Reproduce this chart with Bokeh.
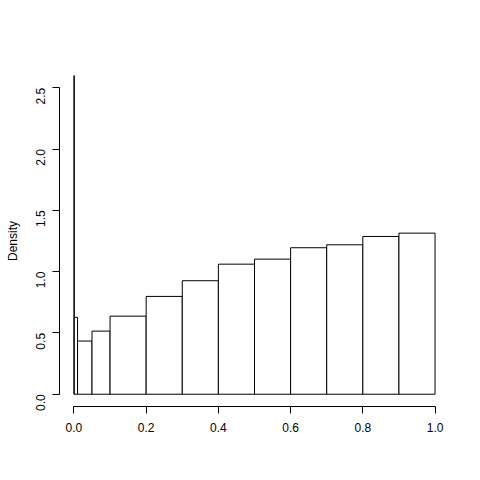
import math
from bokeh.plotting import figure
from bokeh.models import Range1d, FixedTicker, LinearAxis, CustomJSTickFormatter
from bokeh.embed import file_html
from bokeh.resources import INLINE

# histogram breaks (unequal widths) and densities
breaks_left = [0.0, 0.001, 0.01, 0.05, 0.1, 0.2, 0.3, 0.4, 0.5, 0.6, 0.7, 0.8, 0.9]
breaks_right = [0.001, 0.01, 0.05, 0.1, 0.2, 0.3, 0.4, 0.5, 0.6, 0.7, 0.8, 0.9, 1.0]
density = [20.0, 0.627, 0.434, 0.515, 0.637, 0.798, 0.926, 1.061, 1.102, 1.195, 1.219, 1.287, 1.314]
x_ticks = [0.0, 0.2, 0.4, 0.6, 0.8, 1.0]
y_ticks = [0.0, 0.5, 1.0, 1.5, 2.0, 2.5]
bottoms = [0.0] * len(density)

FONT = "Liberation Sans"

p = figure(width=464, height=464, output_backend="svg", toolbar_location=None,
           x_range=Range1d(-0.04, 1.04), y_range=Range1d(-0.1, 2.6),
           x_axis_location=None, y_axis_location=None,
           min_border_left=59, min_border_right=15, min_border_top=75, min_border_bottom=58)
p.outline_line_color = None
p.xgrid.visible = False
p.ygrid.visible = False
p.background_fill_color = "white"
p.border_fill_color = "white"

p.quad(left=breaks_left, right=breaks_right, bottom=bottoms, top=density,
       fill_color="white", line_color="black", line_width=1)

xa = LinearAxis(ticker=FixedTicker(ticks=x_ticks), bounds=(0, 1))
ya = LinearAxis(ticker=FixedTicker(ticks=y_ticks), bounds=(0, 2.5), axis_label="Density")
for ax in (xa, ya):
    ax.major_tick_out = 7
    ax.major_tick_in = 0
    ax.minor_tick_out = 0
    ax.minor_tick_in = 0
    ax.axis_line_color = "black"
    ax.major_tick_line_color = "black"
    ax.major_label_text_font = FONT
    ax.major_label_text_font_size = "12px"
    ax.major_label_text_color = "black"
    ax.axis_label_text_font = FONT
    ax.axis_label_text_font_size = "12px"
    ax.axis_label_text_font_style = "normal"
    ax.axis_label_text_color = "black"
    ax.formatter = CustomJSTickFormatter(code="return tick.toFixed(1);")
xa.major_label_standoff = 9
ya.major_label_standoff = 12
ya.major_label_orientation = math.pi / 2
ya.axis_label_standoff = 9

p.add_layout(xa, "below")
p.add_layout(ya, "left")

open("out.html", "w").write(file_html(p, INLINE))
